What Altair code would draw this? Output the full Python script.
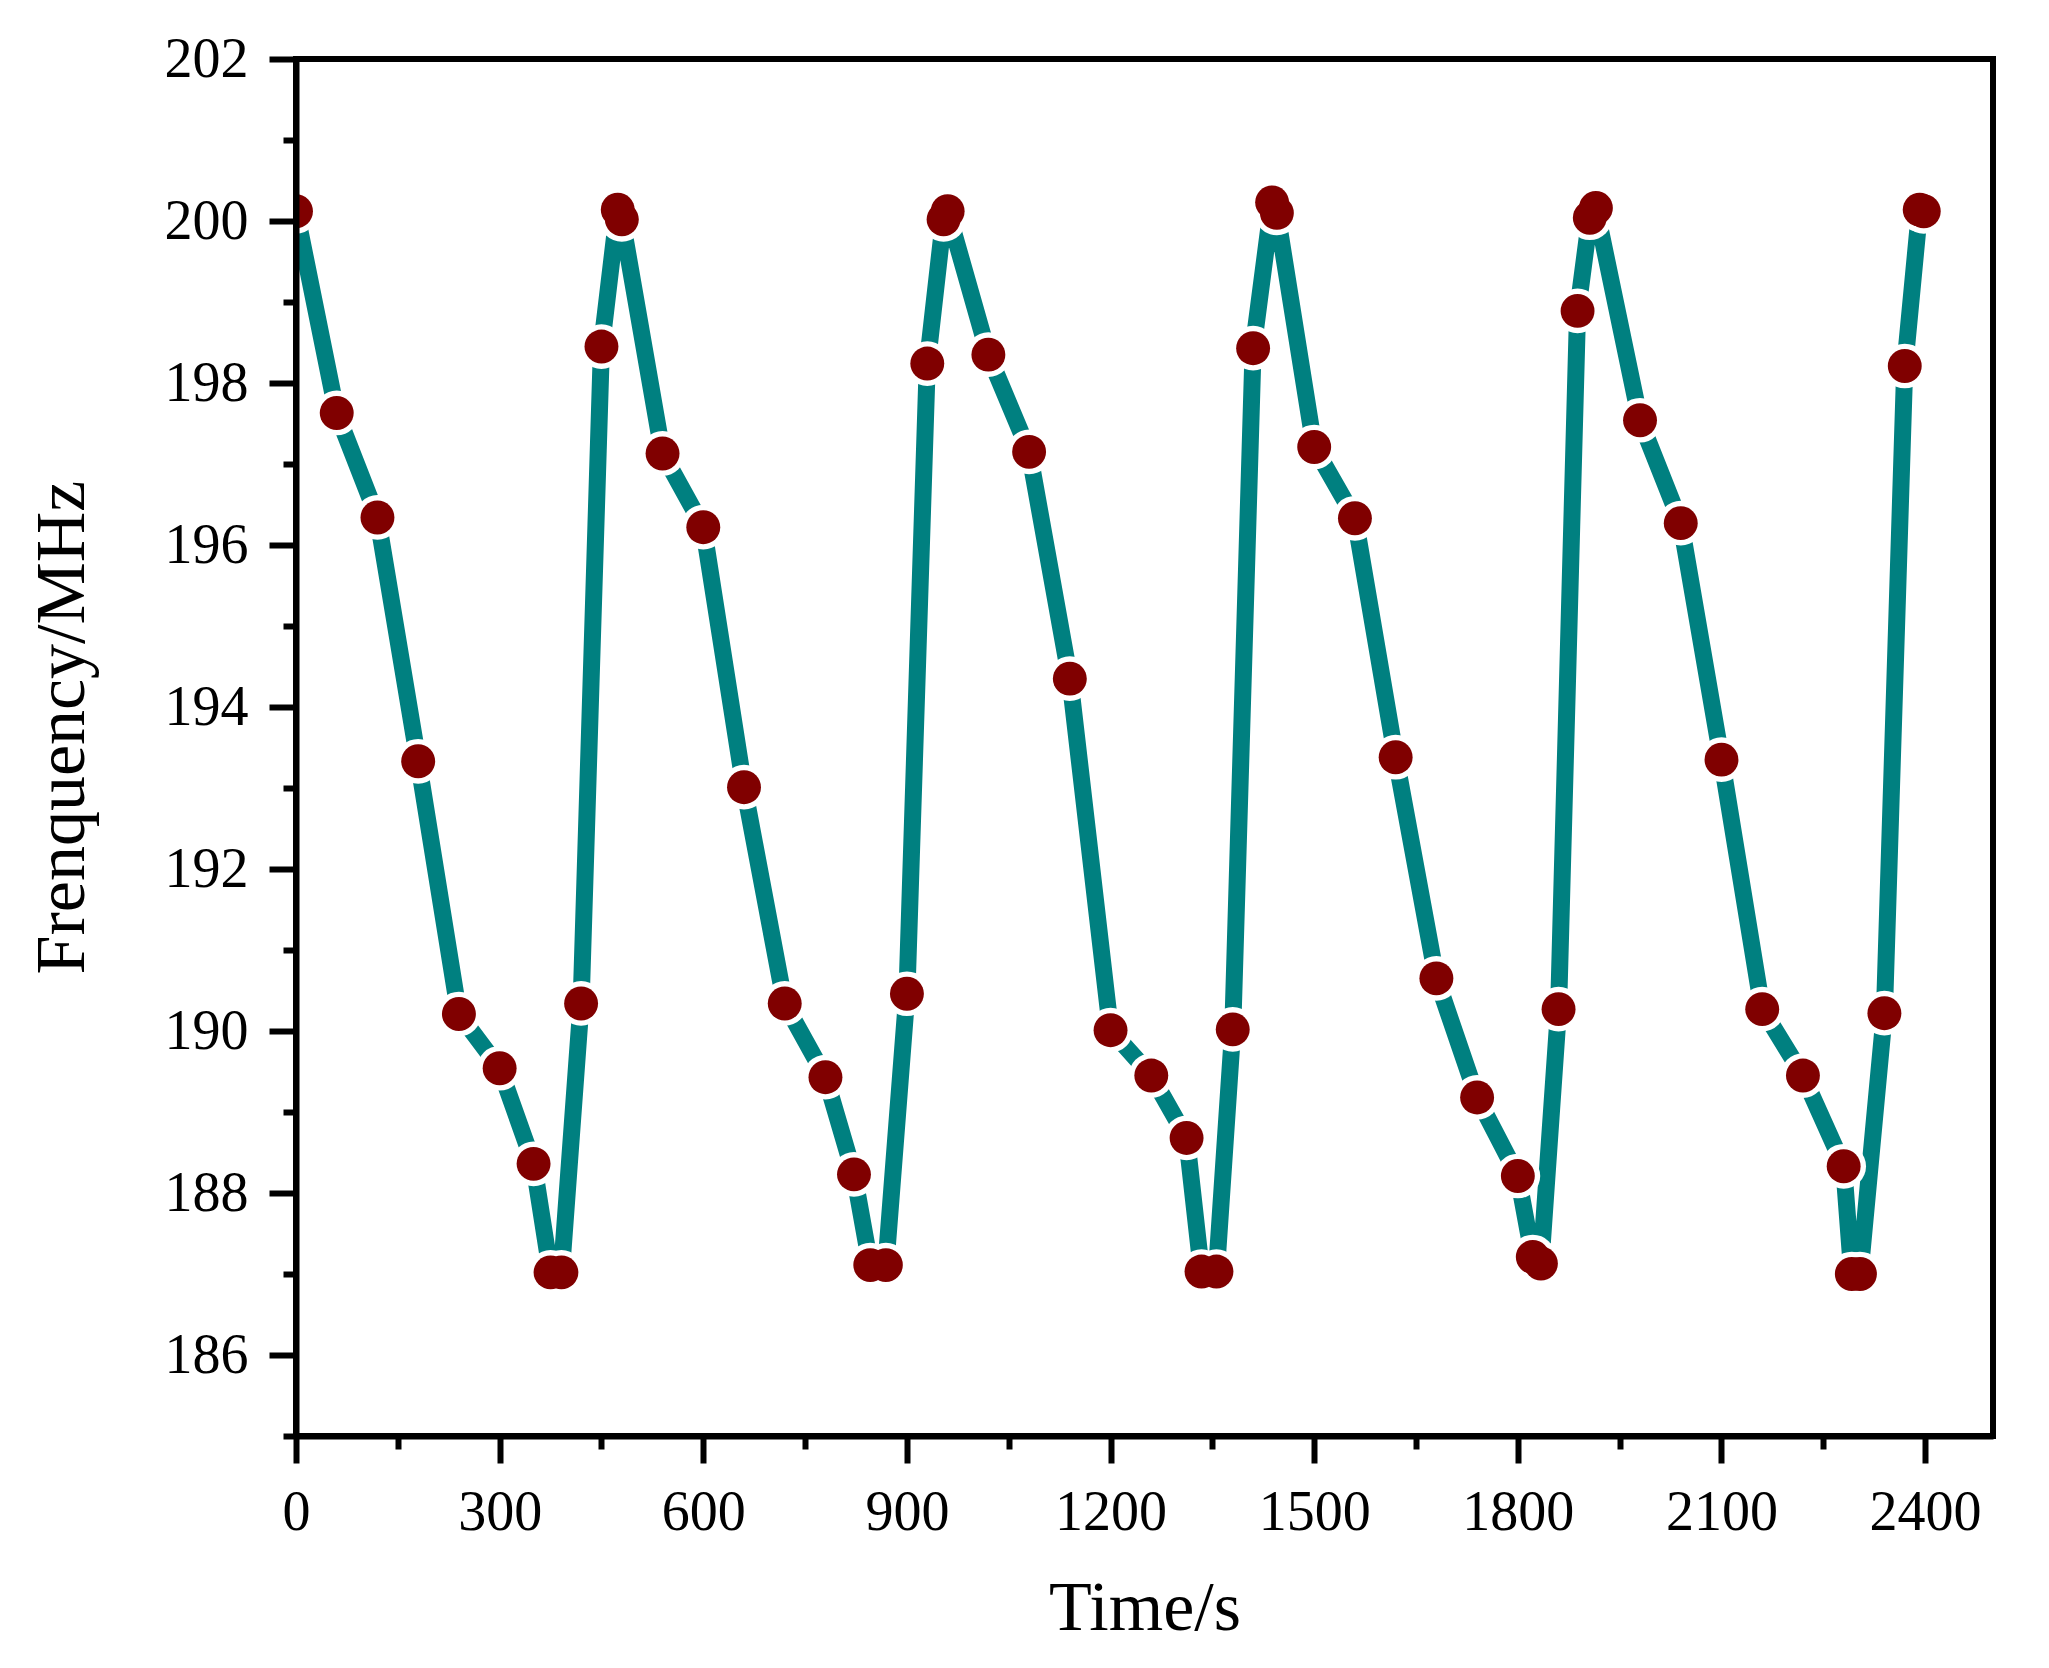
import altair as alt
import pandas as pd

time_s = [0, 60, 120, 180, 240, 300, 350, 375, 391, 420, 450, 474, 480,
          540, 600, 660, 720, 780, 822, 846, 869, 900, 930, 954, 960,
          1020, 1080, 1140, 1200, 1260, 1312, 1334, 1356, 1380, 1410, 1438, 1445,
          1500, 1560, 1620, 1680, 1740, 1800, 1822, 1834, 1860, 1888, 1906, 1915,
          1980, 2040, 2100, 2160, 2220, 2280, 2292, 2304, 2340, 2370, 2392, 2398]
freq_mhz = [200.12, 197.63, 196.34, 193.33, 190.21, 189.54, 188.36, 187.02, 187.02, 190.34, 198.45, 200.14, 200.02,
            197.13, 196.22, 193.01, 190.34, 189.43, 188.23, 187.11, 187.11, 190.46, 198.24, 200.02, 200.12,
            198.35, 197.15, 194.35, 190.01, 189.45, 188.68, 187.03, 187.03, 190.02, 198.43, 200.23, 200.10,
            197.21, 196.33, 193.38, 190.65, 189.18, 188.21, 187.21, 187.13, 190.27, 198.89, 200.04, 200.16,
            197.54, 196.27, 193.35, 190.27, 189.45, 188.33, 187.00, 187.00, 190.22, 198.21, 200.14, 200.12]

x_major = [0, 300, 600, 900, 1200, 1500, 1800, 2100, 2400]
x_minor = [150, 450, 750, 1050, 1350, 1650, 1950, 2250]
y_major = [186, 188, 190, 192, 194, 196, 198, 200, 202]
y_minor = [185, 187, 189, 191, 193, 195, 197, 199, 201]

df = pd.DataFrame({"t": time_s, "f": freq_mhz})

FONT = "Liberation Serif"
W, H = 1697, 1377

xscale = alt.Scale(domain=[0, 2500], nice=False, zero=False)
yscale = alt.Scale(domain=[185, 202], nice=False, zero=False)

x_axis = alt.Axis(values=x_major, format="d", labelFont=FONT, labelFontSize=56, labelColor="black",
                  labelPadding=22, labelFlush=False, labelOverlap=False,
                  domain=True, domainColor="black", domainWidth=6,
                  ticks=True, tickSize=27, tickWidth=6, tickColor="black", grid=False,
                  title="Time/s", titleFont=FONT, titleFontSize=70, titleFontWeight="normal",
                  titleColor="black", titleX=W / 2, titleY=193, titleBaseline="alphabetic",
                  titleAlign="center", orient="bottom", zindex=2)
y_axis = alt.Axis(values=y_major, format="d", labelFont=FONT, labelFontSize=56, labelColor="black",
                  labelPadding=21, labelFlush=False, labelOverlap=False,
                  domain=True, domainColor="black", domainWidth=6,
                  ticks=True, tickSize=27, tickWidth=6, tickColor="black", grid=False,
                  title="Frenquency/MHz", titleFont=FONT, titleFontSize=70, titleFontWeight="normal",
                  titleColor="black", titleX=-213, titleY=668, titleAngle=270,
                  titleBaseline="alphabetic", titleAlign="center", orient="left", zindex=2)
x_minor_axis = alt.Axis(values=x_minor, labels=False, domain=False, ticks=True, tickSize=13,
                        tickWidth=6, tickColor="black", grid=False, title=None, orient="bottom", zindex=2)
y_minor_axis = alt.Axis(values=y_minor, labels=False, domain=False, ticks=True, tickSize=13,
                        tickWidth=6, tickColor="black", grid=False, title=None, orient="left", zindex=2)

base = alt.Chart(df)

line = base.mark_line(color="#008080", strokeWidth=17, strokeJoin="bevel", clip=True).encode(
    x=alt.X("t:Q", scale=xscale, axis=x_axis),
    y=alt.Y("f:Q", scale=yscale, axis=y_axis),
)
halo = base.mark_point(filled=True, shape="circle", size=2000, color="white", opacity=1, clip=True).encode(
    x=alt.X("t:Q", scale=xscale, axis=None),
    y=alt.Y("f:Q", scale=yscale, axis=None),
)
dots = base.mark_point(filled=True, shape="circle", size=1150, color="#800000", opacity=1, clip=True).encode(
    x=alt.X("t:Q", scale=xscale, axis=None),
    y=alt.Y("f:Q", scale=yscale, axis=None),
)
minor = base.mark_point(opacity=0).encode(
    x=alt.X("t:Q", scale=xscale, axis=x_minor_axis),
    y=alt.Y("f:Q", scale=yscale, axis=y_minor_axis),
)

chart = alt.layer(line, halo, dots, minor).resolve_axis(
    x="independent", y="independent"
).properties(
    width=W, height=H,
    autosize=alt.AutoSizeParams(type="none"),
    padding={"left": 288, "top": 51, "right": 40, "bottom": 230},
    background="white",
).configure_view(stroke="black", strokeWidth=6)

chart.save("out.html", embed_options={"renderer": "svg", "actions": False})
